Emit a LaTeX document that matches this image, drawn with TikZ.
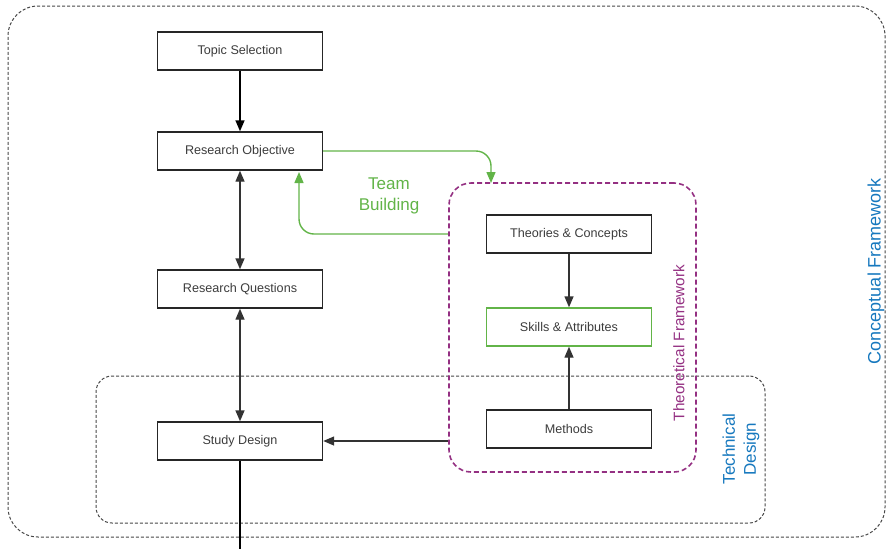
\documentclass[tikz,border=0pt]{standalone}
\usepackage{fontspec}
\setmainfont{Liberation Sans}
\usepackage{tikz}
\usetikzlibrary{arrows.meta,calc}
\definecolor{boxtext}{RGB}{60,60,60}
\definecolor{teamgreen}{RGB}{98,180,72}
\definecolor{theopurple}{RGB}{148,48,130}
\definecolor{concblue}{RGB}{22,120,190}
\definecolor{framegray}{RGB}{70,70,70}

\tikzset{
  stage/.style={draw=black!85, line width=1.4pt, minimum width=165pt, minimum height=38pt,
    inner sep=0pt, text=boxtext, font=\fontsize{12.6}{14}\selectfont},
  dashframe/.style={draw=framegray, dash pattern=on 3pt off 2pt, line width=1pt, inner sep=0pt},
  flow/.style={line width=1.4pt, draw=black!80, -{Triangle[length=11pt,width=9pt]}},
  twoway/.style={flow, {Triangle[length=11pt,width=9pt]}-{Triangle[length=11pt,width=9pt]}},
  team/.style={line width=1.4pt, draw=teamgreen, rounded corners=15pt, -{Triangle[length=11pt,width=9pt]}},
}

\begin{document}
\begin{tikzpicture}[x=1pt,y=-1pt]
\useasboundingbox (0,0) rectangle (888,549);

% frames
\node[dashframe, rounded corners=30pt, minimum width=877pt, minimum height=531pt] (concept) at (446.5,271.5) {};
\node[dashframe, rounded corners=16pt, minimum width=669pt, minimum height=147pt] (tech) at (430.5,449.5) {};
\node[dashframe, draw=theopurple, dash pattern=on 5pt off 3pt, line width=1.6pt, rounded corners=22pt,
  minimum width=247pt, minimum height=289pt] (theo) at (572.5,327.5) {};

\node[stage] (topic) at (240,51) {Topic Selection};
\node[stage] (objective) at (240,151) {Research Objective};
\node[stage] (questions) at (240,289) {Research Questions};
\node[stage] (study) at (240,441) {Study Design};
\node[stage] (theories) at (569,234) {Theories \& Concepts};
\node[stage, draw=teamgreen] (skills) at (569,327) {Skills \& Attributes};
\node[stage] (methods) at (569,429) {Methods};

\node[rotate=90, text=theopurple, font=\fontsize{15.3}{17}\selectfont] (theolabel) at (679,343) {Theoretical Framework};
\node[rotate=90, align=center, text=concblue, font=\fontsize{17}{21}\selectfont] (techlabel) at (741,449) {Technical\\Design};
\node[rotate=90, text=concblue, font=\fontsize{18}{20}\selectfont] (conclabel) at (876,271) {Conceptual Framework};
\node[align=center, text=teamgreen, font=\fontsize{17}{21}\selectfont] (teamlabel) at (389,196) {Team\\Building};

% connectors
\draw[flow, draw=black] (topic) -- (objective);
\draw[twoway] (objective) -- (questions);
\draw[twoway] (questions) -- (study);
\draw[flow] (theories) -- (skills);
\draw[flow] (methods) -- (skills);
\draw[flow] (theo.west |- study) -- (study);
\coordinate (exit) at (240,549);
\draw[line width=1.4pt, draw=black] (study) -- (exit);

\coordinate (teamin) at (491,183);
\draw[team] (objective.east) -| (teamin);
\coordinate (teamout) at (theo.west |- theories);
\coordinate (teamback) at (299,172);
\draw[team] (teamout) -| (teamback);
\end{tikzpicture}
\end{document}
